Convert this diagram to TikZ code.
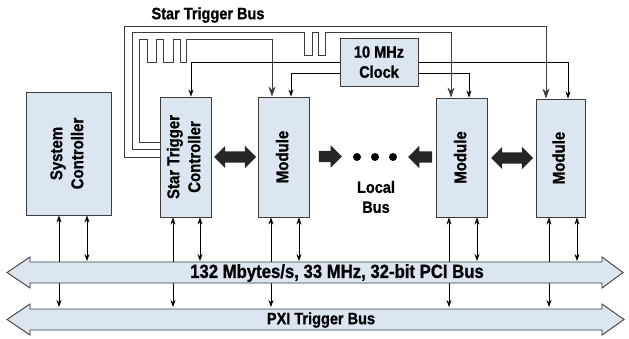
\documentclass[tikz,border=0pt]{standalone}
\usepackage{fontspec}
\newfontfamily\pxifont{Liberation Sans}[FakeStretch=0.88, BoldFeatures={FakeBold=1}]
\usepackage{graphicx}
\usetikzlibrary{arrows.meta}
\usetikzlibrary{shapes.arrows}

\definecolor{boxblue}{RGB}{220,230,240}
\definecolor{linegray}{RGB}{60,60,60}
\newcommand{\vlabel}[1]{\rotatebox{90}{\begin{tabular}{@{}c@{}}#1\end{tabular}}}

\begin{document}
\begin{tikzpicture}[x=1pt,y=1pt,
  unit/.style={draw=linegray, fill=boxblue, line width=0.9pt, inner sep=0pt, font=\pxifont\bfseries\fontsize{17}{21}\selectfont},
  lbl/.style={font=\pxifont\bfseries\fontsize{16.5}{20}\selectfont, align=center, inner sep=0pt},
  trig/.style={draw=linegray, line width=0.7pt},
  trigarrow/.style={trig, -{Stealth[length=10pt,width=7pt]}},
  clk/.style={draw=black, line width=0.7pt, -{Stealth[length=7pt,width=5pt]}},
  io/.style={draw=black, line width=0.7pt, {Stealth[length=7pt,width=5pt]}-{Stealth[length=7pt,width=5pt]}},
  bus/.style={draw=linegray, fill=boxblue, line width=0.9pt},
  fat/.style={fill=black!85, draw=none, inner sep=5.5pt, single arrow head extend=5.5pt, double arrow head extend=5.5pt},
  dot/.style={circle, fill=black, inner sep=0pt, minimum size=8}]
\useasboundingbox (0,0) rectangle (629,-339);
% units
\node[unit, minimum width=85, minimum height=123] (sysc) at (68.5,-153.5) {\vlabel{System\\Controller}};
\node[unit, minimum width=51, minimum height=120] (stc) at (185.5,-157) {\vlabel{Star Trigger\\Controller}};
\node[unit, minimum width=51, minimum height=120] (modA) at (284,-157) {\vlabel{Module}};
\node[unit, minimum width=51, minimum height=119] (modB) at (462,-157.5) {\vlabel{Module}};
\node[unit, minimum width=49, minimum height=118] (modC) at (560.5,-158) {\vlabel{Module}};
\node[unit, minimum width=78, minimum height=48, align=center, font=\pxifont\bfseries\fontsize{16.5}{20}\selectfont] (clock) at (379,-62) {10 MHz\\Clock};
\node[lbl] (startitle) at (208,-15) {Star Trigger Bus};
% star trigger lines
\draw[trigarrow] (stc.west) -| (124,-26) -| ([xshift=-14.5]modC.north);
\draw[trigarrow] ([yshift=8]stc.west) -| (132,-32) -- (304,-32) -- (304,-55) -- (312,-55) -- (312,-32)
  -- (318,-32) -- (318,-55) -- (325,-55) -- (325,-32) -| ([xshift=-11]modB.north);
\draw[trigarrow] ([yshift=15]stc.west) -| (139,-39) -- (147,-39) -- (147,-62) -- (156,-62) -- (156,-39)
  -- (163,-39) -- (163,-62) -- (173,-62) -- (173,-39) -- (180,-39) -- (180,-62) -- (186,-62)
  -- (186,-39) -| ([xshift=-12]modA.north);
% clock lines
\draw[clk] (clock.west) -| ([xshift=5.5]stc.north);
\draw[clk] ([yshift=-11]clock.west) -| ([xshift=7]modA.north);
\draw[clk] ([yshift=-11]clock.east) -| ([xshift=7]modB.north);
\draw[clk] (clock.east) -| ([xshift=7.5]modC.north);
% local bus
\node[fat, double arrow, minimum height=42] (lbA) at (235,-157) {};
\node[fat, single arrow, minimum height=23] (lbB) at (327.5,-156.5) {};
\node[dot] (d1) at (357,-157) {};
\node[dot] (d2) at (375,-157) {};
\node[dot] (d3) at (393,-157) {};
\node[fat, single arrow, minimum height=24, shape border rotate=180] (lbC) at (423,-157) {};
\node[fat, double arrow, minimum height=42] (lbD) at (512,-158) {};
\node[lbl] (localbus) at (376,-197) {Local\\Bus};
% backplane connections
\coordinate (pcitop) at (0,-261);
\coordinate (pxitop) at (0,-307);
\draw[io] ([xshift=-9.5]sysc.south) -- ([xshift=-9.5]sysc.south |- pxitop);
\draw[io] ([xshift=18.5]sysc.south) -- ([xshift=18.5]sysc.south |- pcitop);
\draw[io] ([xshift=-12.5]stc.south) -- ([xshift=-12.5]stc.south |- pxitop);
\draw[io] ([xshift=14.5]stc.south) -- ([xshift=14.5]stc.south |- pcitop);
\draw[io] ([xshift=-13]modA.south) -- ([xshift=-13]modA.south |- pxitop);
\draw[io] ([xshift=15]modA.south) -- ([xshift=15]modA.south |- pcitop);
\draw[io] ([xshift=-13]modB.south) -- ([xshift=-13]modB.south |- pxitop);
\draw[io] ([xshift=15]modB.south) -- ([xshift=15]modB.south |- pcitop);
\draw[io] ([xshift=-11.5]modC.south) -- ([xshift=-11.5]modC.south |- pxitop);
\draw[io] ([xshift=16.5]modC.south) -- ([xshift=16.5]modC.south |- pcitop);
% buses
\filldraw[bus] (7,-272.5) -- (30,-257) -- (30,-262) -- (602,-262) -- (602,-257) -- (623,-272.5)
  -- (602,-288) -- (602,-283) -- (30,-283) -- (30,-288) -- cycle;
\node[lbl, font=\pxifont\bfseries\fontsize{19}{20}\selectfont] (pcibus) at (337,-273) {132 Mbytes/s, 33 MHz, 32-bit PCI Bus};
\filldraw[bus] (7,-319.5) -- (30,-304) -- (30,-309) -- (602,-309) -- (602,-304) -- (624,-319.5)
  -- (602,-335) -- (602,-330) -- (30,-330) -- (30,-335) -- cycle;
\node[lbl] (pxibus) at (321,-320) {PXI Trigger Bus};
\end{tikzpicture}
\end{document}
